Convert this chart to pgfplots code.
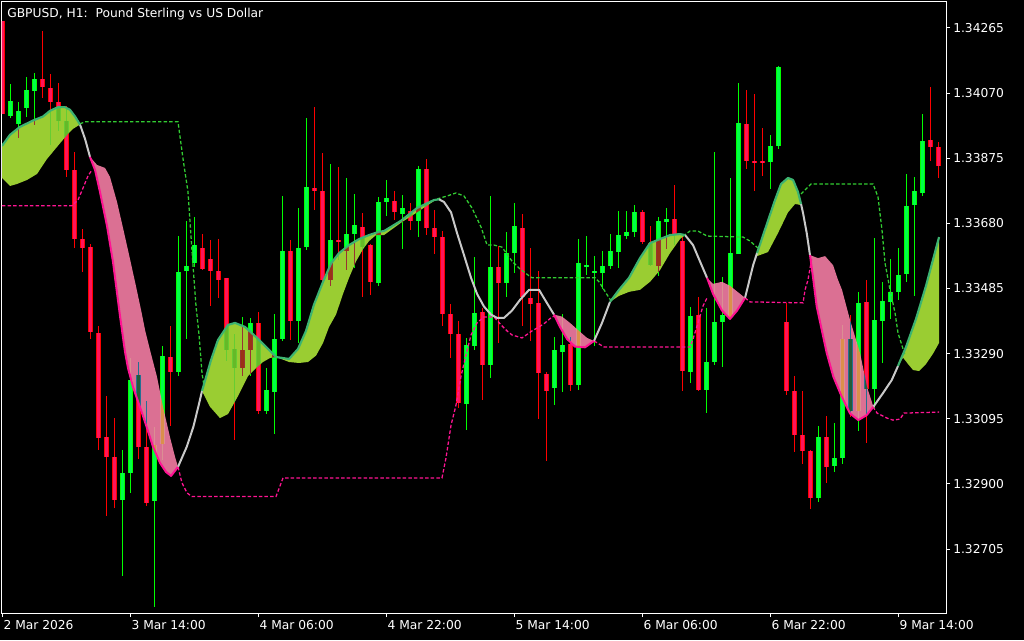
\documentclass[border=0pt]{standalone}
\usepackage{fontspec}
\setmainfont{DejaVu Sans}
\usepackage{pgfplots}
\usepackage{pgfplotstable}
\pgfplotsset{compat=1.18}
\definecolor{bullwick}{RGB}{0,255,0}
\definecolor{bullbody}{RGB}{0,255,72}
\definecolor{bearwick}{RGB}{255,0,0}
\definecolor{bearbody}{RGB}{255,20,90}
\definecolor{ygfill}{RGB}{154,205,50}
\definecolor{pkfill}{RGB}{219,112,147}
\definecolor{tealline}{RGB}{60,179,113}
\definecolor{hpline}{RGB}{255,20,147}
\definecolor{grayline}{RGB}{200,200,200}
\definecolor{dotgreen}{RGB}{50,205,50}
\definecolor{dotpink}{RGB}{255,20,147}

\pgfplotstableread{
i o h l c
0 1.34287 1.34287 1.34008 1.34008
5 1.34113 1.34256 1.34055 1.34089
6 1.34088 1.34126 1.33914 1.34045
7 1.34045 1.34101 1.33957 1.33987
8 1.33987 1.34033 1.33820 1.33840
9 1.33840 1.33893 1.33608 1.33632
10 1.33636 1.33663 1.33535 1.33609
11 1.33609 1.33619 1.33335 1.33355
12 1.33351 1.33373 1.33002 1.33037
13 1.33041 1.33164 1.32804 1.32983
14 1.32980 1.33098 1.32829 1.32851
17 1.33226 1.33266 1.32977 1.33010
18 1.33011 1.33149 1.32835 1.32845
21 1.33281 1.33375 1.33076 1.33235
25 1.33608 1.33647 1.33541 1.33543
26 1.33575 1.33632 1.33433 1.33538
27 1.33538 1.33635 1.33459 1.33512
28 1.33516 1.33519 1.33268 1.33302
29 1.33305 1.33351 1.33033 1.33249
32 1.33382 1.33416 1.33110 1.33119
36 1.33599 1.33629 1.33330 1.33390
39 1.33787 1.34028 1.33721 1.33776
40 1.33779 1.33893 1.33510 1.33512
42 1.33629 1.33850 1.33571 1.33623
45 1.33670 1.33712 1.33462 1.33610
46 1.33614 1.33620 1.33467 1.33504
49 1.33749 1.33778 1.33692 1.33716
51 1.33718 1.33743 1.33661 1.33688
53 1.33843 1.33875 1.33648 1.33665
54 1.33668 1.33722 1.33590 1.33639
55 1.33641 1.33659 1.33375 1.33411
56 1.33409 1.33440 1.33278 1.33351
57 1.33349 1.33390 1.33128 1.33143
60 1.33416 1.33428 1.33153 1.33256
62 1.33550 1.33614 1.33323 1.33502
65 1.33668 1.33708 1.33373 1.33459
66 1.33457 1.33606 1.33327 1.33439
67 1.33443 1.33537 1.33094 1.33232
68 1.33230 1.33235 1.32969 1.33178
71 1.33317 1.33339 1.33178 1.33196
80 1.33716 1.33722 1.33618 1.33626
81 1.33621 1.33672 1.33553 1.33555
84 1.33694 1.33794 1.33614 1.33648
85 1.33626 1.33639 1.33178 1.33238
87 1.33406 1.33461 1.33178 1.33183
93 1.33979 1.34081 1.33844 1.33869
94 1.33867 1.34067 1.33779 1.33863
95 1.33867 1.33966 1.33822 1.33862
98 1.33385 1.33443 1.33167 1.33178
99 1.33178 1.33225 1.32996 1.33048
100 1.33048 1.33178 1.32962 1.32999
101 1.33000 1.33002 1.32825 1.32858
103 1.33041 1.33103 1.32902 1.32953
106 1.33335 1.33406 1.33100 1.33119
108 1.33445 1.33510 1.33024 1.33186
116 1.33929 1.34090 1.33867 1.33910
117 1.33911 1.33926 1.33818 1.33853
}\bear

\pgfplotstableread{
i o h l c
1 1.34000 1.34099 1.33997 1.34045
2 1.33979 1.34045 1.33938 1.34015
3 1.34024 1.34119 1.34000 1.34079
4 1.34077 1.34132 1.33975 1.34113
15 1.32851 1.33002 1.32623 1.32933
16 1.32934 1.33277 1.32873 1.33211
19 1.32850 1.33071 1.32531 1.33016
20 1.33022 1.33313 1.32972 1.33283
22 1.33235 1.33641 1.33223 1.33536
23 1.33537 1.33688 1.33335 1.33553
24 1.33561 1.33700 1.33550 1.33617
30 1.33249 1.33400 1.33225 1.33302
31 1.33302 1.33396 1.33225 1.33382
33 1.33119 1.33249 1.33110 1.33182
34 1.33177 1.33410 1.33049 1.33335
35 1.33335 1.33763 1.33327 1.33599
37 1.33388 1.33728 1.33323 1.33606
38 1.33608 1.33997 1.33602 1.33790
41 1.33510 1.33859 1.33495 1.33631
43 1.33599 1.33816 1.33541 1.33648
44 1.33648 1.33769 1.33547 1.33676
47 1.33502 1.33761 1.33495 1.33746
48 1.33743 1.33810 1.33703 1.33757
50 1.33708 1.33767 1.33606 1.33728
52 1.33688 1.33853 1.33641 1.33843
58 1.33141 1.33338 1.33061 1.33317
59 1.33314 1.33581 1.33302 1.33412
61 1.33256 1.33763 1.33219 1.33550
63 1.33502 1.33653 1.33459 1.33593
64 1.33593 1.33743 1.33531 1.33672
69 1.33186 1.33341 1.33137 1.33300
70 1.33296 1.33409 1.33176 1.33317
72 1.33198 1.33635 1.33183 1.33561
73 1.33552 1.33642 1.33526 1.33556
74 1.33532 1.33583 1.33313 1.33537
75 1.33532 1.33598 1.33483 1.33553
76 1.33552 1.33648 1.33544 1.33599
77 1.33597 1.33718 1.33546 1.33648
78 1.33643 1.33718 1.33632 1.33656
79 1.33654 1.33736 1.33639 1.33716
82 1.33553 1.33700 1.33522 1.33688
83 1.33684 1.33727 1.33606 1.33694
86 1.33238 1.33431 1.33202 1.33406
88 1.33183 1.33428 1.33115 1.33267
89 1.33264 1.33893 1.33256 1.33385
90 1.33384 1.33521 1.33252 1.33407
91 1.33402 1.33816 1.33398 1.33593
92 1.33590 1.34100 1.33590 1.33981
96 1.33865 1.33947 1.33783 1.33914
97 1.33911 1.34150 1.33902 1.34147
102 1.32858 1.33073 1.32846 1.33041
104 1.32953 1.33082 1.32935 1.32978
105 1.32978 1.33375 1.32959 1.33335
107 1.33119 1.33476 1.33061 1.33443
109 1.33186 1.33639 1.33130 1.33391
110 1.33390 1.33506 1.33263 1.33449
111 1.33446 1.33575 1.33394 1.33476
112 1.33477 1.33608 1.33451 1.33526
113 1.33528 1.33828 1.33504 1.33734
114 1.33736 1.33818 1.33461 1.33777
115 1.33773 1.34009 1.33763 1.33929
}\bull

\pgfplotsset{
  candle/.style 2 args={draw=none, mark=none, forget plot,
    error bars/.cd, y dir=both, y explicit, error mark=none,
    error bar style={draw=#1, line width=#2, solid}},
  gfill/.style={fill=ygfill, draw=none, forget plot, blend mode=difference},
  pfill/.style={fill=pkfill, draw=none, forget plot, blend mode=difference},
  tline/.style={tealline, line width=1.6pt, line join=round, forget plot},
  hline/.style={hpline, line width=1.5pt, line join=round, forget plot},
  sline/.style={grayline, line width=1.5pt, line join=round, forget plot},
  gdash/.style={dotgreen, line width=0.95pt, dash pattern=on 2.6pt off 1.6pt, forget plot},
  pdash/.style={dotpink, line width=0.95pt, dash pattern=on 2.6pt off 1.6pt, forget plot},
}

\begin{document}
\begin{tikzpicture}
\fill[black] (-1.5pt,-20.25pt) rectangle (766.5pt,459.75pt);
\begin{axis}[
  at={(0pt,0pt)}, anchor=south west,
  scale only axis, width=708pt, height=458.25pt,
  xmin=-0.04, xmax=117.96, ymin=1.325135, ymax=1.343428,
  axis background/.style={fill=black},
  axis line style={white, line width=0.75pt},
  tick align=outside, major tick length=3pt,
  tick style={white, line width=0.75pt},
  xtick pos=left, ytick pos=right, yticklabel pos=right,
  xtick={0,16,32,48,64,80,96,112},
  xticklabels={2 Mar 2026,3 Mar 14:00,4 Mar 06:00,4 Mar 22:00,5 Mar 14:00,6 Mar 06:00,6 Mar 22:00,9 Mar 14:00},
  ytick={1.32705,1.32900,1.33095,1.33290,1.33485,1.33680,1.33875,1.34070,1.34265},
  yticklabels={1.32705,1.32900,1.33095,1.33290,1.33485,1.33680,1.33875,1.34070,1.34265},
  scaled y ticks=false,
  tick label style={text=white, font=\fontsize{9.2pt}{11pt}\selectfont},
  xticklabel style={anchor=north west, inner sep=0pt, xshift=0.75pt, yshift=-2.25pt},
  yticklabel style={anchor=west, inner sep=0pt, xshift=2.25pt},
]
% ---- candles ----
\addplot[candle={bullwick}{0.75pt}] table[x=i, y expr={(\thisrow{h}+\thisrow{l})/2}, y error expr={(\thisrow{h}-\thisrow{l})/2}] {\bull};
\addplot[candle={bullwick}{3.75pt}] table[x=i, y expr={(\thisrow{o}+\thisrow{c})/2}, y error expr={(\thisrow{c}-\thisrow{o})/2}] {\bull};
\addplot[candle={bullbody}{2.25pt}] table[x=i, y expr={(\thisrow{o}+\thisrow{c})/2}, y error expr={(\thisrow{c}-\thisrow{o})/2}] {\bull};
\addplot[candle={bearwick}{0.75pt}] table[x=i, y expr={(\thisrow{h}+\thisrow{l})/2}, y error expr={(\thisrow{h}-\thisrow{l})/2}] {\bear};
\addplot[candle={bearwick}{3.75pt}] table[x=i, y expr={(\thisrow{o}+\thisrow{c})/2}, y error expr={(\thisrow{o}-\thisrow{c})/2}] {\bear};
\addplot[candle={bearbody}{2.25pt}] table[x=i, y expr={(\thisrow{o}+\thisrow{c})/2}, y error expr={(\thisrow{o}-\thisrow{c})/2}] {\bear};

% ---- ribbon fills ----
\addplot[gfill] coordinates {(-0.04,1.33912)(0.96,1.33945)(2.21,1.33969)(3.84,1.33988)(5.09,1.34000)(5.96,1.34017)(6.96,1.34028)(7.84,1.34028)(8.46,1.34020)(9.09,1.34000)(9.71,1.33976)(8.84,1.33963)(8.09,1.33945)(6.84,1.33909)(5.59,1.33873)(4.34,1.33828)(3.09,1.33810)(1.84,1.33798)(0.96,1.33792)(-0.04,1.33816)};
\addplot[pfill] coordinates {(10.96,1.33879)(11.59,1.33840)(12.21,1.33774)(13.09,1.33672)(13.84,1.33564)(14.71,1.33403)(15.34,1.33295)(15.71,1.33247)(16.34,1.33190)(17.21,1.33130)(18.09,1.33067)(18.84,1.33011)(19.71,1.32963)(20.46,1.32936)(21.09,1.32924)(21.96,1.32951)(21.59,1.32981)(20.96,1.33040)(20.09,1.33130)(19.34,1.33220)(18.46,1.33301)(17.84,1.33361)(17.34,1.33421)(16.59,1.33505)(15.71,1.33600)(15.09,1.33666)(14.34,1.33744)(13.46,1.33819)(12.84,1.33846)(11.84,1.33855)};
\addplot[gfill] coordinates {(24.96,1.33178)(26.09,1.33271)(26.96,1.33331)(28.21,1.33376)(29.09,1.33382)(30.34,1.33370)(31.71,1.33340)(32.96,1.33310)(34.21,1.33280)(33.46,1.33277)(32.59,1.33265)(31.71,1.33247)(30.71,1.33223)(29.46,1.33163)(28.21,1.33109)(27.21,1.33097)(25.96,1.33131)};
\addplot[gfill] coordinates {(34.21,1.33280)(35.84,1.33274)(36.96,1.33304)(37.96,1.33358)(38.96,1.33437)(40.09,1.33505)(41.09,1.33560)(42.09,1.33591)(43.34,1.33615)(44.59,1.33633)(45.84,1.33645)(47.09,1.33655)(47.71,1.33657)(49.84,1.33688)(51.84,1.33726)(53.96,1.33750)(54.59,1.33752)(53.96,1.33747)(51.84,1.33713)(49.84,1.33682)(47.71,1.33645)(46.71,1.33645)(45.84,1.33627)(45.09,1.33603)(44.21,1.33566)(43.34,1.33517)(42.59,1.33469)(41.71,1.33407)(40.84,1.33370)(40.09,1.33322)(39.21,1.33284)(38.21,1.33265)(37.09,1.33262)(35.84,1.33265)};
\addplot[pfill] coordinates {(68.96,1.33407)(69.71,1.33370)(70.59,1.33334)(71.59,1.33311)(72.84,1.33309)(73.96,1.33328)(73.09,1.33337)(72.09,1.33358)(70.96,1.33382)(69.96,1.33401)};
\addplot[gfill] coordinates {(75.96,1.33445)(77.09,1.33481)(78.34,1.33517)(79.71,1.33576)(80.96,1.33621)(82.21,1.33633)(83.46,1.33645)(84.71,1.33648)(85.34,1.33645)(84.71,1.33633)(83.46,1.33591)(82.21,1.33540)(80.96,1.33505)(79.71,1.33481)(78.34,1.33475)(77.09,1.33463)};
\addplot[pfill] coordinates {(88.09,1.33517)(88.84,1.33469)(89.96,1.33419)(90.96,1.33394)(91.84,1.33419)(92.84,1.33457)(92.21,1.33469)(90.96,1.33493)(89.96,1.33505)(88.84,1.33499)};
\addplot[gfill] coordinates {(94.34,1.33591)(95.71,1.33688)(96.59,1.33750)(97.34,1.33798)(98.21,1.33816)(98.84,1.33810)(99.46,1.33774)(99.84,1.33738)(99.84,1.33735)(99.09,1.33738)(98.21,1.33713)(96.96,1.33651)(95.71,1.33594)(94.34,1.33582)};
\addplot[pfill] coordinates {(100.96,1.33585)(101.38,1.33511)(101.8,1.33431)(102.43,1.33361)(103.05,1.33292)(103.88,1.33221)(104.93,1.33161)(105.96,1.33111)(107.0,1.33091)(108.05,1.33106)(108.88,1.33131)(108.09,1.33190)(107.21,1.33292)(105.96,1.33391)(104.96,1.33481)(104.46,1.33511)(103.84,1.33555)(102.84,1.33582)(101.96,1.33576)};
\addplot[gfill] coordinates {(111.96,1.33253)(112.96,1.33310)(114.21,1.33394)(115.46,1.33493)(117.09,1.33639)(117.09,1.33322)(116.34,1.33290)(115.46,1.33259)(114.59,1.33238)(113.84,1.33241)(113.21,1.33259)(112.59,1.33278)};

% ---- envelope (dashed) ----
\addplot[gdash] coordinates {(9.71,1.33978)(10.34,1.33984)(21.96,1.33984)(22.59,1.33873)(23.21,1.33774)(23.84,1.33552)(24.21,1.33433)(24.59,1.33346)(24.96,1.33232)(25.21,1.33193)};
\addplot[gdash] coordinates {(54.34,1.33753)(55.59,1.33762)(56.71,1.33771)(57.71,1.33762)(58.71,1.33726)(59.84,1.33669)(60.59,1.33615)(61.46,1.33615)(62.46,1.33609)(63.71,1.33567)(64.59,1.33546)(65.84,1.33523)(66.21,1.33517)(74.09,1.33517)(74.59,1.33505)(75.84,1.33457)(76.21,1.33445)};
\addplot[gdash] coordinates {(85.09,1.33642)(85.96,1.33657)(86.96,1.33657)(88.09,1.33642)(92.59,1.33639)(93.46,1.33627)(94.46,1.33606)};
\addplot[gdash] coordinates {(99.84,1.33768)(101.09,1.33798)(108.84,1.33798)(109.46,1.33759)(109.96,1.33660)(110.34,1.33561)(110.96,1.33481)(111.59,1.33412)(111.96,1.33352)(112.59,1.33304)(112.84,1.33286)};
\addplot[pdash] coordinates {(-0.04,1.33733)(8.71,1.33733)(9.46,1.33750)(10.09,1.33786)(10.71,1.33822)(11.21,1.33840)};
\addplot[pdash] coordinates {(21.96,1.32951)(22.46,1.32903)(23.09,1.32873)(23.71,1.32862)(34.21,1.32862)(35.09,1.32918)(54.96,1.32918)(55.46,1.32978)(56.09,1.33076)(56.71,1.33136)(57.34,1.33223)(57.96,1.33286)(58.59,1.33346)(59.34,1.33382)(60.21,1.33400)(61.46,1.33400)(62.34,1.33376)(63.09,1.33358)(63.71,1.33346)(64.96,1.33337)(66.21,1.33358)(67.09,1.33370)(67.84,1.33382)(68.71,1.33400)(69.21,1.33403)};
\addplot[pdash] coordinates {(73.96,1.33328)(75.21,1.33310)(85.96,1.33310)(86.34,1.33334)(86.96,1.33382)(87.59,1.33433)(88.09,1.33457)};
\addplot[pdash] coordinates {(92.84,1.33457)(93.46,1.33445)(100.09,1.33442)(100.34,1.33481)(100.71,1.33511)(101.21,1.33579)};
\addplot[pdash] coordinates {(108.84,1.33131)(109.34,1.33112)(110.59,1.33097)(111.34,1.33091)(112.21,1.33094)(112.71,1.33112)(117.09,1.33115)};

% ---- main line: grey parts ----
\addplot[sline] coordinates {(9.71,1.33976)(10.34,1.33933)(10.96,1.33879)};
\addplot[sline] coordinates {(21.96,1.32951)(23.05,1.33011)(23.88,1.33071)(24.5,1.33131)(24.96,1.33178)};
\addplot[sline] coordinates {(54.59,1.33752)(55.21,1.33744)(56.09,1.33713)(56.84,1.33651)(57.71,1.33585)(58.59,1.33517)(59.34,1.33469)(60.21,1.33431)(61.09,1.33407)(61.84,1.33397)(62.71,1.33397)(63.71,1.33419)(64.71,1.33451)(65.84,1.33481)(67.09,1.33481)(67.84,1.33451)(68.96,1.33407)};
\addplot[sline] coordinates {(73.96,1.33328)(74.96,1.33382)(75.96,1.33445)};
\addplot[sline] coordinates {(85.34,1.33645)(86.34,1.33615)(87.21,1.33566)(88.09,1.33517)};
\addplot[sline] coordinates {(92.84,1.33457)(93.84,1.33554)(94.34,1.33591)};
\addplot[sline] coordinates {(99.84,1.33738)(100.09,1.33711)(100.55,1.33651)(100.96,1.33585)};
\addplot[sline] coordinates {(108.88,1.33131)(110.09,1.33172)(111.18,1.33211)(111.96,1.33253)};
% ---- main line: rising parts ----
\addplot[tline] coordinates {(-0.04,1.33912)(0.96,1.33945)(2.21,1.33969)(3.84,1.33988)(5.09,1.34000)(5.96,1.34017)(6.96,1.34028)(7.84,1.34028)(8.46,1.34020)(9.09,1.34000)(9.71,1.33976)};
\addplot[tline] coordinates {(24.96,1.33178)(26.09,1.33271)(26.96,1.33331)(28.21,1.33376)(29.09,1.33382)(30.34,1.33370)(31.71,1.33340)(32.96,1.33310)(34.21,1.33280)(35.84,1.33274)(36.96,1.33304)(37.96,1.33358)(38.96,1.33437)(40.09,1.33505)(41.09,1.33560)(42.09,1.33591)(43.34,1.33615)(44.59,1.33633)(45.84,1.33645)(47.09,1.33655)(47.71,1.33657)(49.84,1.33688)(51.84,1.33726)(53.96,1.33750)(54.59,1.33752)};
\addplot[tline] coordinates {(75.96,1.33445)(77.09,1.33481)(78.34,1.33517)(79.71,1.33576)(80.96,1.33621)(82.21,1.33633)(83.46,1.33645)(84.71,1.33648)(85.34,1.33645)};
\addplot[tline] coordinates {(94.34,1.33591)(95.71,1.33688)(96.59,1.33750)(97.34,1.33798)(98.21,1.33816)(98.84,1.33810)(99.46,1.33774)(99.84,1.33738)};
\addplot[tline] coordinates {(111.96,1.33253)(112.96,1.33310)(114.21,1.33394)(115.46,1.33493)(117.09,1.33639)};
% ---- main line: falling parts ----
\addplot[hline] coordinates {(10.96,1.33879)(11.59,1.33840)(12.21,1.33774)(13.09,1.33672)(13.84,1.33564)(14.71,1.33403)(15.34,1.33295)(15.71,1.33247)(16.34,1.33190)(17.21,1.33130)(18.09,1.33067)(18.84,1.33011)(19.71,1.32963)(20.46,1.32936)(21.09,1.32924)(21.96,1.32951)};
\addplot[hline] coordinates {(68.96,1.33407)(69.71,1.33370)(70.59,1.33334)(71.59,1.33311)(72.84,1.33309)(73.96,1.33328)};
\addplot[hline] coordinates {(88.09,1.33517)(88.84,1.33469)(89.96,1.33419)(90.96,1.33394)(91.84,1.33419)(92.84,1.33457)};
\addplot[hline] coordinates {(100.96,1.33585)(101.38,1.33511)(101.8,1.33431)(102.43,1.33361)(103.05,1.33292)(103.88,1.33221)(104.93,1.33161)(105.96,1.33111)(107.0,1.33091)(108.05,1.33106)(108.88,1.33131)};

\node[anchor=base west, inner sep=0pt, text=white, font=\fontsize{9.2pt}{11pt}\selectfont] at ([xshift=3.75pt,yshift=-12pt]rel axis cs:0,1) {GBPUSD, H1:\ \ Pound Sterling vs US Dollar};
\end{axis}
\end{tikzpicture}
\end{document}
